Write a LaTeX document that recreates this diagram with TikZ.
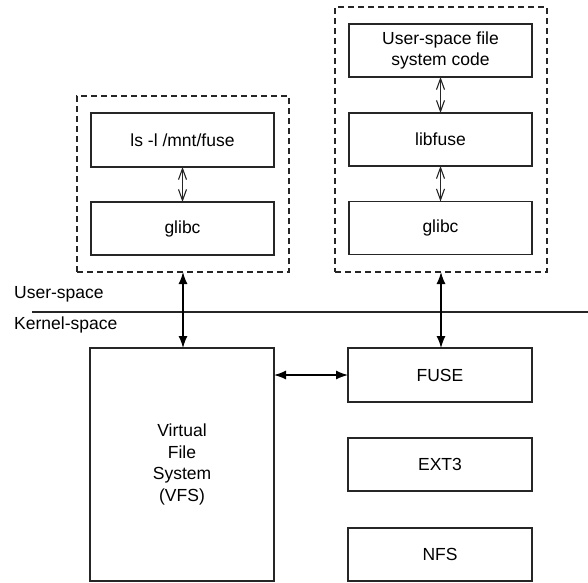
\documentclass[tikz,border=0pt]{standalone}
\usepackage{fontspec}
\setmainfont{Liberation Sans}
\usetikzlibrary{arrows.meta}
\begin{document}
\begin{tikzpicture}[x=1pt,y=-1pt,
  box/.style={draw=black!85, line width=1.1pt, inner sep=0pt, outer sep=0pt, align=center,
    font=\fontsize{17.5}{21.5}\selectfont},
  group/.style={draw=black!85, line width=1.1pt, dash pattern=on 6pt off 4pt, inner sep=0pt, outer sep=0pt},
  thin/.style={draw=black!85, line width=1.1pt, {Straight Barb[length=11pt,width=8pt]}-{Straight Barb[length=11pt,width=8pt]}},
  thick/.style={draw=black, line width=1.3pt, {Latex[length=12pt,width=9pt]}-{Latex[length=12pt,width=9pt]}},
  lbl/.style={font=\fontsize{17.5}{21.5}\selectfont, anchor=west, inner sep=0pt}
]
\useasboundingbox (0,0) rectangle (588,582);
% user-space groups
\node[group, minimum width=212pt, minimum height=176pt] (lgrp) at (183,184) {};
\node[group, minimum width=212pt, minimum height=265pt] (rgrp) at (441,139.5) {};
\node[box, minimum width=183pt, minimum height=54pt] (ls) at (182.5,140) {ls -l /mnt/fuse};
\node[box, minimum width=183pt, minimum height=53pt] (glibcA) at (182.5,228.5) {glibc};
\node[box, minimum width=183pt, minimum height=53pt] (usfs) at (440.5,50.5) {User-space file\\system code};
\node[box, minimum width=183pt, minimum height=53pt] (libfuse) at (440.5,139.5) {libfuse};
\node[box, minimum width=183pt, minimum height=53pt] (glibcB) at (440.5,228) {glibc};
% kernel
\node[box, minimum width=184pt, minimum height=233pt] (vfs) at (182,464.5) {Virtual\\File\\System\\(VFS)};
\node[box, minimum width=184pt, minimum height=54pt] (fuse) at (440,375) {FUSE};
\node[box, minimum width=184pt, minimum height=53pt] (ext3) at (440,464.5) {EXT3};
\node[box, minimum width=184pt, minimum height=53pt] (nfs) at (440,554.5) {NFS};
% boundary
\coordinate (bl) at (32,312);
\coordinate (br) at (588,312);
\draw[black!85, line width=1.1pt] (bl) -- (br);
\node[lbl] (us) at (14,294) {User-space};
\node[lbl] (ks) at (14,325) {Kernel-space};
% connectors
\draw[thin] (ls.south) -- (glibcA.north);
\draw[thin] (usfs.south) -- (libfuse.north);
\draw[thin] (libfuse.south) -- (glibcB.north);
\draw[thick] (lgrp.south) -- (lgrp.south |- vfs.north);
\draw[thick] (rgrp.south) -- (rgrp.south |- fuse.north);
\draw[thick] (fuse.west -| vfs.east) -- (fuse.west);
\end{tikzpicture}
\end{document}
